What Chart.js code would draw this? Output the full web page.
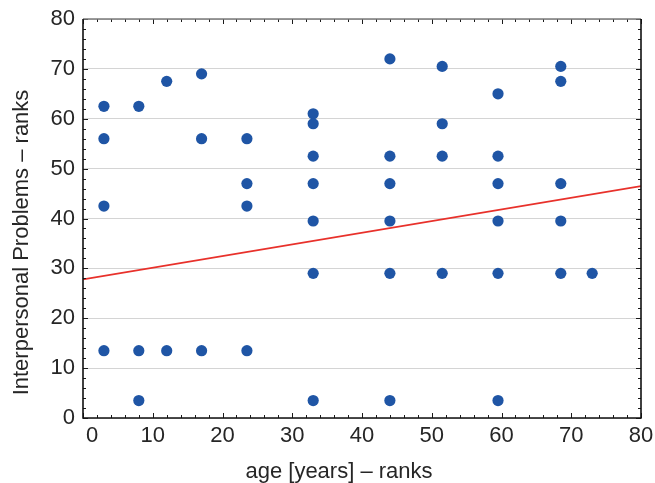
<!DOCTYPE html>
<html>
<head>
<meta charset="utf-8">
<script src="https://cdn.jsdelivr.net/npm/chart.js@4"></script>
<style>
  body { margin: 0; background: #fff; }
  #wrap { width: 655px; height: 483px; }
</style>
</head>
<body>
<div id="wrap"><canvas id="chart"></canvas></div>
<script>
// age ranks (x) and interpersonal problems ranks (y), one entry per dot
const ageRanks = [
  3, 3, 3, 3,
  8, 8, 8,
  12, 12,
  17, 17, 17,
  23.5, 23.5, 23.5, 23.5,
  33, 33, 33, 33, 33, 33, 33,
  44, 44, 44, 44, 44, 44,
  51.5, 51.5, 51.5, 51.5,
  59.5, 59.5, 59.5, 59.5, 59.5, 59.5,
  68.5, 68.5, 68.5, 68.5, 68.5,
  73
];
const problemRanks = [
  62.5, 56, 42.5, 13.5,
  62.5, 13.5, 3.5,
  67.5, 13.5,
  69, 56, 13.5,
  56, 47, 42.5, 13.5,
  61, 59, 52.5, 47, 39.5, 29, 3.5,
  72, 52.5, 47, 39.5, 29, 3.5,
  70.5, 59, 52.5, 29,
  65, 52.5, 47, 39.5, 29, 3.5,
  70.5, 67.5, 47, 39.5, 29,
  29
];
// regression line end points
const fitX = [0, 80];
const fitY = [27.8, 46.5];

const xTicks = [0, 10, 20, 30, 40, 50, 60, 70, 80];
const yTicks = [0, 10, 20, 30, 40, 50, 60, 70, 80];
const xTitle = "age [years] – ranks";
const yTitle = "Interpersonal Problems – ranks";

const FONT = "'Liberation Sans', Arial, sans-serif";
const TEXT = "#262626";

const points = ageRanks.map((x, i) => ({ x: x, y: problemRanks[i] }));
const fit = fitX.map((x, i) => ({ x: x, y: fitY[i] }));

// axis frame with inward ticks, plus the axis titles
const framePlugin = {
  id: "frame",
  afterDraw(chart) {
    const { ctx, chartArea: a, scales } = chart;
    const x = scales.x, y = scales.y;
    ctx.save();
    ctx.strokeStyle = "#1a1a1a";
    ctx.lineWidth = 1;
    ctx.beginPath();
    for (let v = 0; v <= 80; v += 2) {
      const len = v % 10 === 0 ? 5 : 3;
      const px = Math.round(x.getPixelForValue(v)) + 0.5;
      ctx.moveTo(px, a.bottom); ctx.lineTo(px, a.bottom - len);
      ctx.moveTo(px, a.top); ctx.lineTo(px, a.top + len);
      const py = Math.round(y.getPixelForValue(v)) + 0.5;
      ctx.moveTo(a.left, py); ctx.lineTo(a.left + len, py);
      ctx.moveTo(a.right, py); ctx.lineTo(a.right - len, py);
    }
    ctx.stroke();

    ctx.lineWidth = 1.6;
    ctx.strokeStyle = "#7a7a7a";
    ctx.beginPath();
    ctx.moveTo(a.left, a.top); ctx.lineTo(a.right, a.top);
    ctx.stroke();
    ctx.strokeStyle = "#111";
    ctx.beginPath();
    ctx.moveTo(a.left, a.top); ctx.lineTo(a.left, a.bottom);
    ctx.lineTo(a.right, a.bottom); ctx.lineTo(a.right, a.top);
    ctx.stroke();

    ctx.fillStyle = TEXT;
    ctx.font = "22px " + FONT;
    ctx.textAlign = "center";
    ctx.textBaseline = "alphabetic";
    ctx.fillText(xTitle, 339, 478);
    ctx.translate(28, 242.5);
    ctx.rotate(-Math.PI / 2);
    ctx.fillText(yTitle, 0, 0);
    ctx.restore();
  }
};

new Chart(document.getElementById("chart"), {
  type: "scatter",
  data: {
    datasets: [
      {
        data: points,
        backgroundColor: "#1f55a5",
        borderWidth: 0,
        pointRadius: 5.6,
        pointHoverRadius: 5.6
      },
      {
        type: "line",
        data: fit,
        borderColor: "#e8312b",
        borderWidth: 1.7,
        pointRadius: 0,
        fill: false
      }
    ]
  },
  options: {
    responsive: true,
    maintainAspectRatio: false,
    animation: false,
    events: [],
    layout: { padding: { top: 19, right: 14, left: 0, bottom: 0 } },
    plugins: { legend: { display: false }, tooltip: { enabled: false } },
    scales: {
      x: {
        type: "linear",
        min: 0,
        max: 80,
        afterBuildTicks: (s) => { s.ticks = xTicks.map((v) => ({ value: v })); },
        afterFit: (s) => { s.height = 65; s.paddingLeft = 0; s.paddingRight = 0; },
        grid: { display: false, drawTicks: false },
        border: { display: false },
        ticks: {
          autoSkip: false,
          maxRotation: 0,
          padding: 5,
          color: TEXT,
          font: { family: FONT, size: 22 },
          callback: (v) => (v === 0 ? "\u00a0\u00a0\u00a00" : String(v))
        }
      },
      y: {
        type: "linear",
        min: 0,
        max: 80,
        afterBuildTicks: (s) => { s.ticks = yTicks.map((v) => ({ value: v })); },
        afterFit: (s) => { s.width = 83; s.paddingTop = 0; s.paddingBottom = 0; },
        grid: { color: "#d4d4d4", lineWidth: 1, drawTicks: false },
        border: { display: false },
        ticks: {
          autoSkip: false,
          padding: 8,
          color: TEXT,
          font: { family: FONT, size: 22 }
        }
      }
    }
  },
  plugins: [framePlugin]
});
</script>
</body>
</html>
